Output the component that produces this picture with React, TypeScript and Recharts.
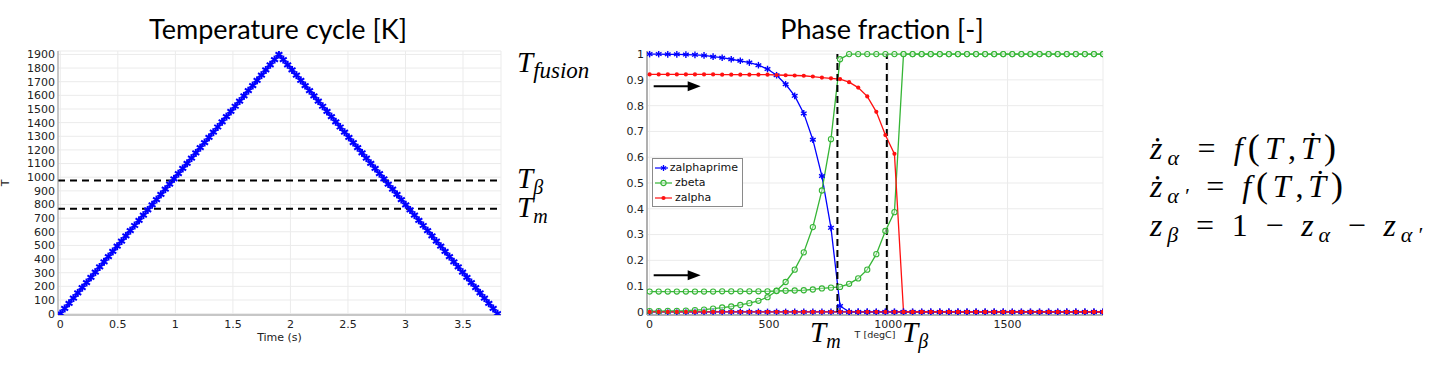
import React from 'react';
import { LineChart, Line, XAxis, YAxis, CartesianGrid, ReferenceLine, Legend, Label } from 'recharts';

// Temperature cycle: time (s) and temperature (K), heat up to fusion and cool back down
const cycleTime = [
  0, 0.038, 0.076, 0.114, 0.152, 0.19, 0.228, 0.266, 0.304, 0.342,
  0.38, 0.418, 0.456, 0.494, 0.532, 0.57, 0.608, 0.646, 0.684, 0.722,
  0.76, 0.798, 0.836, 0.874, 0.912, 0.95, 0.988, 1.026, 1.064, 1.102,
  1.14, 1.178, 1.216, 1.254, 1.292, 1.33, 1.368, 1.406, 1.444, 1.482,
  1.52, 1.558, 1.596, 1.634, 1.672, 1.71, 1.748, 1.786, 1.824, 1.862,
  1.9, 1.938, 1.976, 2.014, 2.052, 2.09, 2.128, 2.166, 2.204, 2.242,
  2.28, 2.318, 2.356, 2.394, 2.432, 2.47, 2.508, 2.546, 2.584, 2.622,
  2.66, 2.698, 2.736, 2.774, 2.812, 2.85, 2.888, 2.926, 2.964, 3.002,
  3.04, 3.078, 3.116, 3.154, 3.192, 3.23, 3.268, 3.306, 3.344, 3.382,
  3.42, 3.458, 3.496, 3.534, 3.572, 3.61, 3.648, 3.686, 3.724, 3.762,
  3.8,
];
const cycleTemp = [
  0, 38, 76, 114, 152, 190, 228, 266, 304, 342,
  380, 418, 456, 494, 532, 570, 608, 646, 684, 722,
  760, 798, 836, 874, 912, 950, 988, 1026, 1064, 1102,
  1140, 1178, 1216, 1254, 1292, 1330, 1368, 1406, 1444, 1482,
  1520, 1558, 1596, 1634, 1672, 1710, 1748, 1786, 1824, 1862,
  1900, 1862, 1824, 1786, 1748, 1710, 1672, 1634, 1596, 1558,
  1520, 1482, 1444, 1406, 1368, 1330, 1292, 1254, 1216, 1178,
  1140, 1102, 1064, 1026, 988, 950, 912, 874, 836, 798,
  760, 722, 684, 646, 608, 570, 532, 494, 456, 418,
  380, 342, 304, 266, 228, 190, 152, 114, 76, 38,
  0,
];
const cycleLevels = [975, 768]; // T_beta, T_m
const cycleTicksX = [0, 0.5, 1, 1.5, 2, 2.5, 3, 3.5];
const cycleTicksY = [0, 100, 200, 300, 400, 500, 600, 700, 800, 900, 1000, 1100, 1200, 1300, 1400, 1500, 1600, 1700, 1800, 1900];

// Phase fractions versus temperature (degC)
const phaseTemp = [
  0, 38, 76, 114, 152, 190, 228, 266, 304, 342,
  380, 418, 456, 494, 532, 570, 608, 646, 684, 722,
  760, 798, 836, 874, 912, 950, 988, 1026, 1064, 1102,
  1140, 1178, 1216, 1254, 1292, 1330, 1368, 1406, 1444, 1482,
  1520, 1558, 1596, 1634, 1672, 1710, 1748, 1786, 1824, 1862,
  1900,
];
const zalphaprimeA = [
  1, 1, 0.999, 0.999, 0.998, 0.997, 0.995, 0.99, 0.986, 0.98,
  0.974, 0.967, 0.957, 0.942, 0.918, 0.883, 0.838, 0.77, 0.668, 0.527,
  0.326, 0.023, 0, 0, 0, 0, 0, 0, 0, 0,
  0, 0, 0, 0, 0, 0, 0, 0, 0, 0,
  0, 0, 0, 0, 0, 0, 0, 0, 0, 0,
  0,
];
const zalphaprimeB = [
  0, 0, 0, 0, 0, 0, 0, 0, 0, 0,
  0, 0, 0, 0, 0, 0, 0, 0, 0, 0,
  0, 0, 0, 0, 0, 0, 0, 0, 0, 0,
  0, 0, 0, 0, 0, 0, 0, 0, 0, 0,
  0, 0, 0, 0, 0, 0, 0, 0, 0, 0,
  0,
];
const zbetaA = [
  0.003, 0.003, 0.004, 0.004, 0.005, 0.007, 0.009, 0.013, 0.017, 0.021,
  0.027, 0.034, 0.043, 0.057, 0.082, 0.116, 0.164, 0.231, 0.329, 0.471,
  0.67, 0.98, 1, 1, 1, 1, 1, 1, 1, 1,
  1, 1, 1, 1, 1, 1, 1, 1, 1, 1,
  1, 1, 1, 1, 1, 1, 1, 1, 1, 1,
  1,
];
const zbetaB = [
  0.079, 0.079, 0.079, 0.079, 0.079, 0.079, 0.079, 0.079, 0.08, 0.08,
  0.08, 0.08, 0.08, 0.08, 0.081, 0.082, 0.083, 0.084, 0.087, 0.091,
  0.094, 0.097, 0.109, 0.13, 0.164, 0.224, 0.314, 0.387, 1, 1,
  1, 1, 1, 1, 1, 1, 1, 1, 1, 1,
  1, 1, 1, 1, 1, 1, 1, 1, 1, 1,
  1,
];
const zalphaA = [
  0, 0, 0, 0, 0, 0, 0, 0, 0, 0,
  0, 0, 0, 0, 0, 0, 0, 0, 0, 0,
  0, 0, 0, 0, 0, 0, 0, 0, 0, 0,
  0, 0, 0, 0, 0, 0, 0, 0, 0, 0,
  0, 0, 0, 0, 0, 0, 0, 0, 0, 0,
  0,
];
const zalphaB = [
  0.921, 0.921, 0.921, 0.921, 0.921, 0.921, 0.921, 0.921, 0.92, 0.92,
  0.92, 0.92, 0.92, 0.92, 0.919, 0.918, 0.917, 0.916, 0.913, 0.909,
  0.906, 0.903, 0.891, 0.87, 0.836, 0.776, 0.686, 0.613, 0, 0,
  0, 0, 0, 0, 0, 0, 0, 0, 0, 0,
  0, 0, 0, 0, 0, 0, 0, 0, 0, 0,
  0,
];
const phaseMarks = [787, 994]; // T_m, T_beta
const arrowLevels = [0.875, 0.142];
const phaseTicksX = [0, 500, 1000, 1500];
const phaseTicksY = [0, 0.1, 0.2, 0.3, 0.4, 0.5, 0.6, 0.7, 0.8, 0.9, 1];
const legendNames = ['zalphaprime', 'zbeta', 'zalpha'];

const BLUE = '#0000ff';
const GREEN = '#35b535';
const RED = '#ff1010';
const sans = 'DejaVu Sans, sans-serif';
const math = 'Liberation Serif, DejaVu Serif, serif';
const tickStyle = { fontSize: 11, fontFamily: sans, fill: '#222' };

const cycleRows = cycleTime.map((t, i) => ({ t, T: cycleTemp[i] }));
const rows = (vals: number[]) => phaseTemp.map((T, i) => ({ T, z: vals[i] }));

const asterisk = (r: number, sw: number) => (p: any) => {
  const { cx, cy, stroke, index } = p;
  if (cx == null || cy == null) return <g key={index} />;
  const a = r * 0.866;
  const b = r * 0.5;
  return (
    <g key={index} stroke={stroke} strokeWidth={sw}>
      <line x1={cx} y1={cy - r} x2={cx} y2={cy + r} />
      <line x1={cx - a} y1={cy - b} x2={cx + a} y2={cy + b} />
      <line x1={cx - a} y1={cy + b} x2={cx + a} y2={cy - b} />
    </g>
  );
};

const ring = (p: any) => {
  const { cx, cy, index } = p;
  if (cx == null || cy == null) return <g key={index} />;
  return <circle key={index} cx={cx} cy={cy} r={2.6} fill="#fff" fillOpacity={0.4} stroke={GREEN} strokeWidth={1.1} />;
};

const dotRed = (p: any) => {
  const { cx, cy, index } = p;
  if (cx == null || cy == null) return <g key={index} />;
  return <circle key={index} cx={cx} cy={cy} r={2.1} fill={RED} />;
};

const phaseSeries = [
  { id: 'ap-a', values: zalphaprimeA, color: BLUE, dot: asterisk(3.3, 1.4) },
  { id: 'ap-b', values: zalphaprimeB, color: BLUE, dot: asterisk(3.3, 1.4) },
  { id: 'b-a', values: zbetaA, color: GREEN, dot: ring },
  { id: 'b-b', values: zbetaB, color: GREEN, dot: ring },
  { id: 'a-a', values: zalphaA, color: RED, dot: dotRed },
  { id: 'a-b', values: zalphaB, color: RED, dot: dotRed },
];

const legendSwatch = [
  { color: BLUE, mark: (x: number, y: number) => asterisk(3, 1.3)({ cx: x, cy: y, stroke: BLUE, index: 0 }) },
  { color: GREEN, mark: (x: number, y: number) => ring({ cx: x, cy: y, index: 0 }) },
  { color: RED, mark: (x: number, y: number) => dotRed({ cx: x, cy: y, index: 0 }) },
];

const PhaseLegend = () => (
  <div style={{ border: '1px solid #8a8a8a', background: '#fff', padding: '1px 4px 2px 1px', fontFamily: sans, fontSize: 11, color: '#111', boxSizing: 'border-box', width: 91, height: 49 }}>
    {legendNames.map((n, i) => (
      <div key={n} style={{ display: 'flex', alignItems: 'center', height: 15 }}>
        <svg width={19} height={10} style={{ marginRight: 2 }}>
          <line x1={1} y1={5} x2={18} y2={5} stroke={legendSwatch[i].color} strokeWidth={1.2} />
          {legendSwatch[i].mark(9.5, 5)}
        </svg>
        <span>{n}</span>
      </div>
    ))}
  </div>
);

const arrowShape = (p: any) => {
  const { x1, y1, x2, y2 } = p;
  if (x1 == null) return <g />;
  return (
    <g>
      <line x1={x1} y1={y1} x2={x2 - 10} y2={y2} stroke="#000" strokeWidth={2} />
      <polygon points={`${x2},${y2} ${x2 - 13},${y2 - 5} ${x2 - 13},${y2 + 5}`} fill="#000" />
    </g>
  );
};

const Sym = ({ x, y, main, sub, subSize = 20 }: { x: number; y: number; main: string; sub: string; subSize?: number }) => (
  <text x={x} y={y} fontFamily={math} fontStyle="italic" fontSize={29} fill="#000">
    {main}
    <tspan fontSize={subSize} dy={6}>{sub}</tspan>
  </text>
);

const App: React.FC = () => {
  return (
    <div style={{ position: 'absolute', left: 0, top: 0, width: 1435, height: 368, background: '#fff' }}>
      <div style={{ position: 'absolute', left: 0, top: 0 }}>
        <LineChart width={520} height={368} data={cycleRows} margin={{ top: 51, right: 19, bottom: 23, left: 0 }}>
          <CartesianGrid stroke="#ebebeb" />
          <XAxis dataKey="t" type="number" domain={[-0.02, 3.83]} ticks={cycleTicksX} allowDataOverflow interval={0}
            tickLine={false} tickSize={0} tickMargin={5} height={30} axisLine={{ stroke: '#999' }} tick={tickStyle}>
            <Label value="Time (s)" position="insideBottom" offset={4} style={{ fontSize: 11, fontFamily: sans, fill: '#222' }} />
          </XAxis>
          <XAxis xAxisId="top" orientation="top" type="number" domain={[-0.02, 3.83]} allowDataOverflow height={0} tick={false} tickLine={false} axisLine={{ stroke: '#999' }} />
          <YAxis type="number" domain={[-10, 1925]} ticks={cycleTicksY} allowDataOverflow interval={0} width={58}
            tickLine={false} tickSize={0} tickMargin={3} axisLine={{ stroke: '#999' }} tick={tickStyle} />
          <YAxis yAxisId="right" orientation="right" type="number" domain={[-10, 1925]} allowDataOverflow width={0} tick={false} tickLine={false} axisLine={{ stroke: '#999' }} />
          <Line dataKey="T" stroke={BLUE} strokeWidth={1.5} dot={asterisk(4, 2)} isAnimationActive={false} />
          {cycleLevels.map((v) => (
            <ReferenceLine key={v} y={v} stroke="#000" strokeWidth={2} strokeDasharray="7 5" />
          ))}
        </LineChart>
      </div>

      <div style={{ position: 'absolute', left: 600, top: 0 }}>
        <LineChart width={520} height={368} margin={{ top: 51, right: 17, bottom: 23, left: 0 }}>
          <CartesianGrid stroke="#ebebeb" />
          <XAxis dataKey="T" type="number" domain={[-11, 1900]} ticks={phaseTicksX} allowDataOverflow interval={0}
            tickLine={false} tickSize={0} tickMargin={5} height={30} axisLine={{ stroke: '#b0b0b0', strokeWidth: 2 }} tick={tickStyle}>
            <Label value="T [degC]" position="insideBottom" offset={7} style={{ fontSize: 9.5, fontFamily: sans, fill: '#222' }} />
          </XAxis>
          <XAxis xAxisId="top" orientation="top" type="number" domain={[-11, 1900]} allowDataOverflow height={0} tick={false} tickLine={false} axisLine={{ stroke: '#999' }} />
          <YAxis type="number" domain={[-0.012, 1.012]} ticks={phaseTicksY} allowDataOverflow interval={0} width={47}
            tickLine={false} tickSize={0} tickMargin={3} axisLine={{ stroke: '#b0b0b0', strokeWidth: 2 }} tick={tickStyle} />
          <YAxis yAxisId="right" orientation="right" type="number" domain={[-0.012, 1.012]} allowDataOverflow width={0} tick={false} tickLine={false} axisLine={{ stroke: '#999' }} />
          {phaseSeries.map((s) => (
            <Line key={s.id} data={rows(s.values)} dataKey="z" stroke={s.color} strokeWidth={1.3} dot={s.dot}
              legendType="none" isAnimationActive={false} />
          ))}
          {phaseMarks.map((v) => (
            <ReferenceLine key={v} segment={[{ x: v, y: 0 }, { x: v, y: 1 }]} stroke="#000" strokeWidth={2} strokeDasharray="7 4" />
          ))}
          {arrowLevels.map((v) => (
            <ReferenceLine key={v} segment={[{ x: 17, y: v }, { x: 214, y: v }]} shape={arrowShape} />
          ))}
          <Legend layout="vertical" align="center" verticalAlign="middle" content={() => <PhaseLegend />}
            wrapperStyle={{ left: 52, top: 158, width: 91, height: 49 }} />
        </LineChart>
      </div>

      <svg width={1435} height={368} style={{ position: 'absolute', left: 0, top: 0, pointerEvents: 'none' }}>
        <text x={278} y={39} textAnchor="middle" fontFamily="Lato, sans-serif" fontSize={27} fill="#000">Temperature cycle [K]</text>
        <text x={882} y={39} textAnchor="middle" fontFamily="Lato, sans-serif" fontSize={27} fill="#000">Phase fraction [-]</text>
        <text x={0} y={0} transform="translate(9,183) rotate(-90)" textAnchor="middle" fontFamily={sans} fontSize={11} fill="#222">T</text>

        <Sym x={517} y={72} main="T" sub="fusion" subSize={23} />
        <Sym x={517} y={188} main="T" sub="β" />
        <Sym x={517} y={217} main="T" sub="m" />
        <Sym x={810} y={342} main="T" sub="m" />
        <Sym x={902} y={342} main="T" sub="β" />

        <text x={1150} y={159} fontFamily={math} fontSize={32} fill="#000" textLength={186} lengthAdjust="spacing">
          <tspan fontStyle="italic">ż</tspan>
          <tspan fontStyle="italic" fontSize={22} dy={6}>α</tspan>
          <tspan dy={-6}> = </tspan>
          <tspan fontStyle="italic">f</tspan>
          <tspan fontSize={36}>(</tspan>
          <tspan fontStyle="italic">T</tspan>
          <tspan>,</tspan>
          <tspan fontStyle="italic">Ṫ</tspan>
          <tspan fontSize={36}>)</tspan>
        </text>
        <text x={1150} y={197} fontFamily={math} fontSize={32} fill="#000" textLength={193} lengthAdjust="spacing">
          <tspan fontStyle="italic">ż</tspan>
          <tspan fontStyle="italic" fontSize={22} dy={6}>α′</tspan>
          <tspan dy={-6}> = </tspan>
          <tspan fontStyle="italic">f</tspan>
          <tspan fontSize={36}>(</tspan>
          <tspan fontStyle="italic">T</tspan>
          <tspan>,</tspan>
          <tspan fontStyle="italic">Ṫ</tspan>
          <tspan fontSize={36}>)</tspan>
        </text>
        <text x={1150} y={236} fontFamily={math} fontSize={32} fill="#000" textLength={272} lengthAdjust="spacing">
          <tspan fontStyle="italic">z</tspan>
          <tspan fontStyle="italic" fontSize={22} dy={6}>β</tspan>
          <tspan dy={-6}> = 1 − </tspan>
          <tspan fontStyle="italic">z</tspan>
          <tspan fontStyle="italic" fontSize={22} dy={6}>α</tspan>
          <tspan dy={-6}> − </tspan>
          <tspan fontStyle="italic">z</tspan>
          <tspan fontStyle="italic" fontSize={22} dy={6}>α′</tspan>
        </text>
      </svg>
    </div>
  );
};

export default App;
